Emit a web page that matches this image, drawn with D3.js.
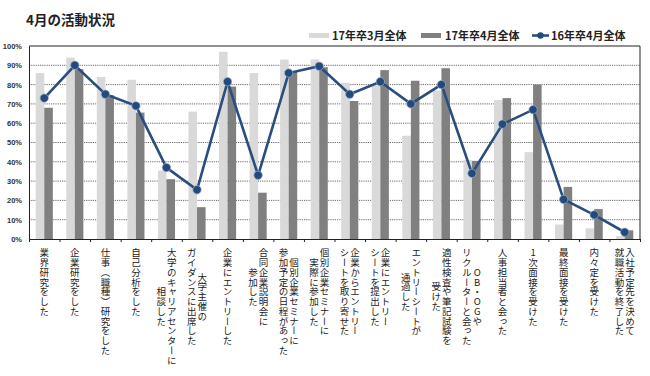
<!DOCTYPE html>
<html>
<head>
<meta charset="utf-8">
<script src="https://cdnjs.cloudflare.com/ajax/libs/d3/7.8.5/d3.min.js"></script>
<style>
body{margin:0;background:#fff;}
svg{display:block;}
</style>
</head>
<body>
<script>
// categories, each line of a label separated by \n (first line is the right column)
const categories = [
  "業界研究をした",
  "企業研究をした",
  "仕事（職種）研究をした",
  "自己分析をした",
  "大学のキャリアセンターに\n相談した",
  "大学主催の\nガイダンスに出席した",
  "企業にエントリーした",
  "合同企業説明会に\n参加した",
  "個別企業セミナーに\n参加予定の日程があった",
  "個別企業セミナーに\n実際に参加した",
  "企業からエントリー\nシートを取り寄せた",
  "企業にエントリー\nシートを提出した",
  "エントリーシートが\n通過した",
  "適性検査や筆記試験を\n受けた",
  "OB・OGや\nリクルーターと会った",
  "人事担当者と会った",
  "1次面接を受けた",
  "最終面接を受けた",
  "内々定を受けた",
  "入社予定先を決めて\n就職活動を終了した"
];
const seriesNames = ["17年卒3月全体", "17年卒4月全体", "16年卒4月全体"];
const mar17 = [86, 94, 84, 82.5, 35.5, 66, 97, 86, 93, 93, 81, 79.5, 53.5, 77, 41, 72, 45, 7.5, 5.5, 1.5];
const apr17 = [68, 88, 74.5, 65.5, 31, 16.5, 79, 24, 87, 89, 71.5, 87.5, 82, 88.5, 40.5, 73, 80, 27, 15.5, 4.5];
const apr16 = [73, 90, 75, 69, 37, 25.5, 81.5, 33, 86, 89.5, 75, 81.5, 70, 80, 34, 59.5, 67, 20.5, 12.5, 3.5];
const yTicks = [0, 10, 20, 30, 40, 50, 60, 70, 80, 90, 100];

const w = 650, h = 376;
const pLeft = 29, pRight = 640, pTop = 46, pBottom = 239;
const cjk = "'Noto Sans CJK JP', 'Noto Sans', sans-serif";

const svg = d3.select("body").append("svg").attr("width", w).attr("height", h);

const x = d3.scaleBand().domain(d3.range(categories.length)).range([pLeft, pRight]).paddingInner(0.44).paddingOuter(0.22);
const xEdge = d3.scaleLinear().domain([0, categories.length]).range([pLeft, pRight]);
const xs = d3.scaleBand().domain([0, 1]).range([0, x.bandwidth()]);
const y = d3.scaleLinear().domain([0, 100]).range([pBottom, pTop]);

// title
svg.append("text").attr("x", 26).attr("y", 25).text("4月の活動状況")
  .style("font-family", cjk).style("font-weight", "bold").style("font-size", "13.5px").style("fill", "#222");

// gridlines
svg.append("g").selectAll("line").data(yTicks.filter(d => d > 0 && d < 100)).enter().append("line")
  .attr("x1", pLeft).attr("x2", pRight).attr("y1", d => y(d)).attr("y2", d => y(d))
  .attr("stroke", "#444").attr("stroke-width", 0.8).attr("stroke-dasharray", "1.2,1");

// bars
const colors = ["#d9d9d9", "#808080"];
[mar17, apr17].forEach(function(vals, s) {
  svg.append("g").selectAll("rect").data(vals).enter().append("rect")
    .attr("x", (d, i) => x(i) + xs(s))
    .attr("y", d => y(d))
    .attr("width", xs.bandwidth())
    .attr("height", d => y(0) - y(d))
    .attr("fill", colors[s]);
});

// plot frame
svg.append("path").attr("d", "M" + pLeft + "," + pTop + "H" + pRight + "V" + pBottom)
  .attr("fill", "none").attr("stroke", "#222").attr("stroke-width", 1);

// axes
const yAxis = d3.axisLeft(y).tickValues(yTicks).tickFormat(d => d + "%").tickSize(0).tickPadding(7);
const gy = svg.append("g").attr("transform", "translate(" + pLeft + ",0)").call(yAxis);
gy.select(".domain").attr("stroke", "#222");
gy.selectAll("text").style("font-family", "'Liberation Sans', Arial, sans-serif")
  .style("font-size", "7.5px").style("font-weight", "bold").style("fill", "#333");

const xAxis = d3.axisBottom(xEdge).tickValues(d3.range(categories.length + 1)).tickFormat("").tickSize(3).tickSizeOuter(0);
const gx = svg.append("g").attr("transform", "translate(0," + pBottom + ")").call(xAxis);
gx.select(".domain").attr("stroke", "#222");
gx.selectAll("line").attr("stroke", "#222");

// line series
const line = d3.line().x((d, i) => x(i) + x.bandwidth() / 2).y(d => y(d));
svg.append("path").datum(apr16).attr("d", line)
  .attr("fill", "none").attr("stroke", "#2a4d7f").attr("stroke-width", 2.6);
svg.append("g").selectAll("circle").data(apr16).enter().append("circle")
  .attr("cx", (d, i) => x(i) + x.bandwidth() / 2).attr("cy", d => y(d)).attr("r", 4.2)
  .attr("fill", "#244a7c").attr("stroke", "#9db3d0").attr("stroke-width", 0.7);

// category labels (vertical text)
const adv = 9.75, lineGap = 10.5, labelTop = 248;
categories.forEach(function(c, i) {
  const lines = c.split("\n");
  const maxLen = d3.max(lines, l => l.length);
  const cx = x(i) + x.bandwidth() / 2;
  const cy = labelTop + maxLen * adv / 2;
  lines.forEach(function(l, j) {
    svg.append("text")
      .attr("x", cx + ((lines.length - 1) / 2 - j) * lineGap)
      .attr("y", cy)
      .attr("text-anchor", "middle")
      .style("writing-mode", "vertical-rl")
      .style("text-orientation", "upright")
      .style("font-family", cjk).style("font-size", "9.5px").style("letter-spacing", "0.25px")
      .style("fill", "#222")
      .text(l);
  });
});

// legend
const lg = svg.append("g").style("font-family", cjk).style("font-size", "11px").style("font-weight", "bold");
lg.append("rect").attr("x", 309).attr("y", 33).attr("width", 20).attr("height", 5).attr("fill", colors[0]);
lg.append("text").attr("x", 332).attr("y", 39.5).text(seriesNames[0]).style("fill", "#222");
lg.append("rect").attr("x", 421).attr("y", 33).attr("width", 20).attr("height", 5).attr("fill", colors[1]);
lg.append("text").attr("x", 445).attr("y", 39.5).text(seriesNames[1]).style("fill", "#222");
lg.append("line").attr("x1", 532).attr("x2", 549).attr("y1", 35.5).attr("y2", 35.5)
  .attr("stroke", "#2a4d7f").attr("stroke-width", 2.6);
lg.append("circle").attr("cx", 540.5).attr("cy", 35.5).attr("r", 3.2).attr("fill", "#244a7c");
lg.append("text").attr("x", 551).attr("y", 39.5).text(seriesNames[2]).style("fill", "#222");
</script>
</body>
</html>
